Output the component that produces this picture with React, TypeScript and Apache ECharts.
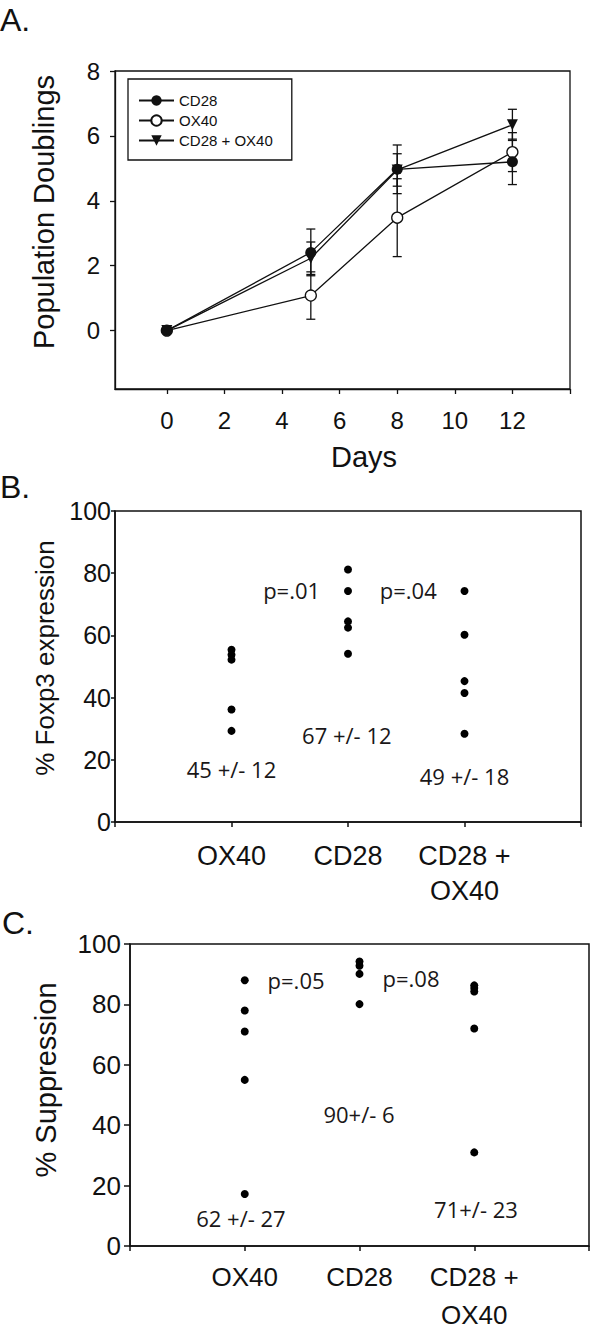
import React, { useEffect, useRef } from 'react';
import * as echarts from 'echarts';

// ---------- Panel A: population doublings ----------
const days = [0, 5, 8, 12];
const cd28Mean = [0, 2.41, 4.97, 5.2];
const cd28Err = [0, 0.72, 0.75, 0.7];
const ox40Mean = [0, 1.08, 3.48, 5.5];
const ox40Err = [0, 0.73, 1.2, 0.6];
const comboMean = [0, 2.23, 4.95, 6.34];
const comboErr = [0, 0.5, 0.5, 0.48];
const doublingTicks = [0, 2, 4, 6, 8];
const dayTicks = [0, 2, 4, 6, 8, 10, 12, 14];
const dayLabels = [0, 2, 4, 6, 8, 10, 12];
const seriesNames = ['CD28', 'OX40', 'CD28 + OX40'];

// ---------- Panels B and C: categories ----------
const groups = ['OX40', 'CD28', 'CD28 +\nOX40'];

// ---------- Panel B: % Foxp3 expression ----------
const foxp3OX40 = [55.4, 53.8, 52.2, 36.2, 29.3];
const foxp3CD28 = [81.2, 74.3, 64.5, 62.5, 54.1];
const foxp3Combo = [74.3, 60.2, 45.3, 41.5, 28.4];
const foxp3Notes: [string, number, number][] = [
  ['p=.01', 1.516, 74.5],
  ['p=.04', 2.517, 74.5],
  ['45 +/- 12', 1.0, 17],
  ['67 +/- 12', 1.99, 27.9],
  ['49 +/- 18', 3.0, 14.7],
];

// ---------- Panel C: % Suppression ----------
const suppOX40 = [88, 78, 71, 55, 17.2];
const suppCD28 = [94.2, 92.8, 90.1, 80.1];
const suppCombo = [86.3, 85.4, 84.3, 72, 31];
const suppNotes: [string, number, number][] = [
  ['p=.05', 1.447, 88.2],
  ['p=.08', 2.449, 88.8],
  ['62 +/- 27', 0.967, 9.3],
  ['90+/- 6', 1.996, 43.8],
  ['71+/- 23', 3.015, 12.3],
];

const INK = '#111';
const SANS = '"Liberation Sans", Arial, sans-serif';
const HUMAN = '"Open Sans", "Noto Sans", sans-serif';

function errData(mean: number[], err: number[]) {
  return days
    .map((d, i) => [d, mean[i] - err[i], mean[i] + err[i]])
    .filter((_, i) => err[i] > 0);
}

function renderErr(_params: any, api: any) {
  const x = api.value(0);
  const lo = api.coord([x, api.value(1)]);
  const hi = api.coord([x, api.value(2)]);
  const w = 4.5;
  const st = { stroke: INK, lineWidth: 1.3 };
  return {
    type: 'group',
    children: [
      { type: 'line', shape: { x1: lo[0], y1: lo[1], x2: hi[0], y2: hi[1] }, style: st },
      { type: 'line', shape: { x1: lo[0] - w, y1: lo[1], x2: lo[0] + w, y2: lo[1] }, style: st },
      { type: 'line', shape: { x1: hi[0] - w, y1: hi[1], x2: hi[0] + w, y2: hi[1] }, style: st },
    ],
  };
}

function dots(groupIndex: number, values: number[], axis: number) {
  return {
    type: 'scatter',
    xAxisIndex: axis,
    yAxisIndex: axis,
    symbol: 'circle',
    symbolSize: 8,
    itemStyle: { color: '#000', opacity: 1 },
    silent: true,
    data: values.map((v) => [groupIndex + 1, v]),
    z: 3,
  };
}

function notes(list: [string, number, number][], axis: number) {
  return {
    type: 'scatter',
    xAxisIndex: axis,
    yAxisIndex: axis,
    symbolSize: 1,
    itemStyle: { color: 'rgba(0,0,0,0)', opacity: 1 },
    silent: true,
    label: {
      show: true,
      position: 'inside',
      formatter: '{b}',
      color: '#1a1718',
      opacity: 1,
      fontSize: 22,
      fontFamily: HUMAN,
    },
    data: list.map(([t, x, y]) => ({ name: t, value: [x, y] })),
    z: 4,
  };
}

function catAxis(grid: number, fontSize: number, lineHeight: number, margin: number) {
  return {
    type: 'value',
    gridIndex: grid,
    min: 0,
    max: groups.length + 1,
    interval: 1,
    axisLine: { show: true, lineStyle: { color: INK, width: 1.5 } },
    axisTick: { show: true, length: 5, lineStyle: { color: INK, width: 1.5 } },
    splitLine: { show: false },
    axisLabel: {
      margin,
      color: INK,
      fontSize,
      lineHeight,
      fontFamily: SANS,
      formatter: (v: number) => groups[v - 1] ?? '',
    },
  };
}

function pctAxis(grid: number, name: string, fontSize: number, nameSize: number, tickLen: number, margin: number, nameGap: number, shift: number) {
  return {
    type: 'value',
    gridIndex: grid,
    min: 0,
    max: 100,
    interval: 20,
    name,
    nameLocation: 'middle',
    nameGap,
    nameTextStyle: { fontSize: nameSize, color: INK, fontFamily: SANS, padding: [0, 0, 0, shift] },
    axisLine: { show: true, lineStyle: { color: INK, width: 1.5 } },
    axisTick: { show: true, length: tickLen, lineStyle: { color: INK, width: 1.5 } },
    splitLine: { show: false },
    axisLabel: { margin, color: INK, fontSize, fontFamily: SANS },
  };
}

export default function App() {
  const ref = useRef<HTMLDivElement>(null);

  useEffect(() => {
    if (!ref.current) return;
    const chart = echarts.init(ref.current, undefined, { renderer: 'svg' });

    const lineBase = {
      type: 'line',
      xAxisIndex: 0,
      yAxisIndex: 0,
      lineStyle: { color: INK, width: 1.3 },
      z: 3,
    };

    const option: any = {
      animation: false,
      backgroundColor: '#fff',
      textStyle: { fontFamily: SANS },
      grid: [
        { left: 115, top: 71, width: 455, height: 318, show: true, borderColor: INK, borderWidth: 1.3, backgroundColor: 'transparent' },
        { left: 115, top: 511, width: 466, height: 311, show: true, borderColor: INK, borderWidth: 1.5, backgroundColor: 'transparent' },
        { left: 130, top: 944, width: 459, height: 302, show: true, borderColor: INK, borderWidth: 1.5, backgroundColor: 'transparent' },
      ],
      legend: {
        data: seriesNames,
        orient: 'vertical',
        left: 128,
        top: 79,
        itemWidth: 35,
        itemHeight: 13,
        itemGap: 5,
        padding: [14, 19, 12, 10],
        borderColor: INK,
        borderWidth: 1.3,
        backgroundColor: '#fff',
        selectedMode: false,
        textStyle: { fontSize: 15, color: INK, fontFamily: SANS, lineHeight: 14 },
      },
      xAxis: [
        {
          type: 'value',
          gridIndex: 0,
          min: -1.8,
          max: 14,
          name: 'Days',
          nameLocation: 'middle',
          nameGap: 53,
          nameTextStyle: { fontSize: 29, color: INK, fontFamily: SANS, padding: [0, 0, 0, 43] },
          axisLine: { show: true, onZero: false, lineStyle: { color: INK, width: 1.3 } },
          axisTick: { show: true, length: 5, customValues: dayTicks, lineStyle: { color: INK, width: 1.3 } },
          splitLine: { show: false },
          axisLabel: { customValues: dayLabels, margin: 19, fontSize: 24, color: INK, fontFamily: SANS },
        },
        catAxis(1, 27, 35, 16),
        catAxis(2, 26, 38, 12),
      ],
      yAxis: [
        {
          type: 'value',
          gridIndex: 0,
          min: -1.8,
          max: 8,
          name: 'Population Doublings',
          nameLocation: 'middle',
          nameGap: 57,
          nameTextStyle: { fontSize: 29, color: INK, fontFamily: SANS, padding: [0, 0, 0, 36] },
          axisLine: { show: true, onZero: false, lineStyle: { color: INK, width: 1.3 } },
          axisTick: { show: true, length: 5, customValues: doublingTicks, lineStyle: { color: INK, width: 1.3 } },
          splitLine: { show: false },
          axisLabel: { customValues: doublingTicks, margin: 15, fontSize: 24, color: INK, fontFamily: SANS },
        },
        pctAxis(1, '% Foxp3 expression', 25, 26, 4, 4, 57, 17),
        pctAxis(2, '% Suppression', 26, 29, 6, 9, 70, 30),
      ],
      graphic: [
        { type: 'text', left: 0, top: 4, style: { text: 'A.', fontSize: 32, fill: INK, fontFamily: SANS } },
        { type: 'text', left: 0, top: 471, style: { text: 'B.', fontSize: 32, fill: INK, fontFamily: SANS } },
        { type: 'text', left: 2, top: 907, style: { text: 'C.', fontSize: 32, fill: INK, fontFamily: SANS } },
      ],
      series: [
        { type: 'custom', xAxisIndex: 0, yAxisIndex: 0, renderItem: renderErr, data: errData(cd28Mean, cd28Err), encode: { x: 0, y: [1, 2] }, z: 1, silent: true },
        { type: 'custom', xAxisIndex: 0, yAxisIndex: 0, renderItem: renderErr, data: errData(ox40Mean, ox40Err), encode: { x: 0, y: [1, 2] }, z: 1, silent: true },
        { type: 'custom', xAxisIndex: 0, yAxisIndex: 0, renderItem: renderErr, data: errData(comboMean, comboErr), encode: { x: 0, y: [1, 2] }, z: 1, silent: true },
        {
          ...lineBase,
          name: seriesNames[1],
          data: days.map((d, i) => [d, ox40Mean[i]]),
          symbol: 'circle',
          symbolSize: 11,
          itemStyle: { color: '#fff', borderColor: INK, borderWidth: 1.3 },
        },
        {
          ...lineBase,
          name: seriesNames[2],
          data: days.map((d, i) => [d, comboMean[i]]),
          symbol: 'triangle',
          symbolRotate: 180,
          symbolSize: 11,
          itemStyle: { color: INK, borderColor: INK, borderWidth: 0 },
        },
        {
          ...lineBase,
          name: seriesNames[0],
          data: days.map((d, i) => [d, cd28Mean[i]]),
          symbol: 'circle',
          symbolSize: 11,
          itemStyle: { color: INK, borderColor: INK, borderWidth: 0 },
        },
        dots(0, foxp3OX40, 1),
        dots(1, foxp3CD28, 1),
        dots(2, foxp3Combo, 1),
        notes(foxp3Notes, 1),
        dots(0, suppOX40, 2),
        dots(1, suppCD28, 2),
        dots(2, suppCombo, 2),
        notes(suppNotes, 2),
      ],
    };

    chart.setOption(option);
    return () => chart.dispose();
  }, []);

  return (
    <div
      ref={ref}
      style={{ position: 'absolute', left: 0, top: 0, width: 601, height: 1335, background: '#fff' }}
    />
  );
}
